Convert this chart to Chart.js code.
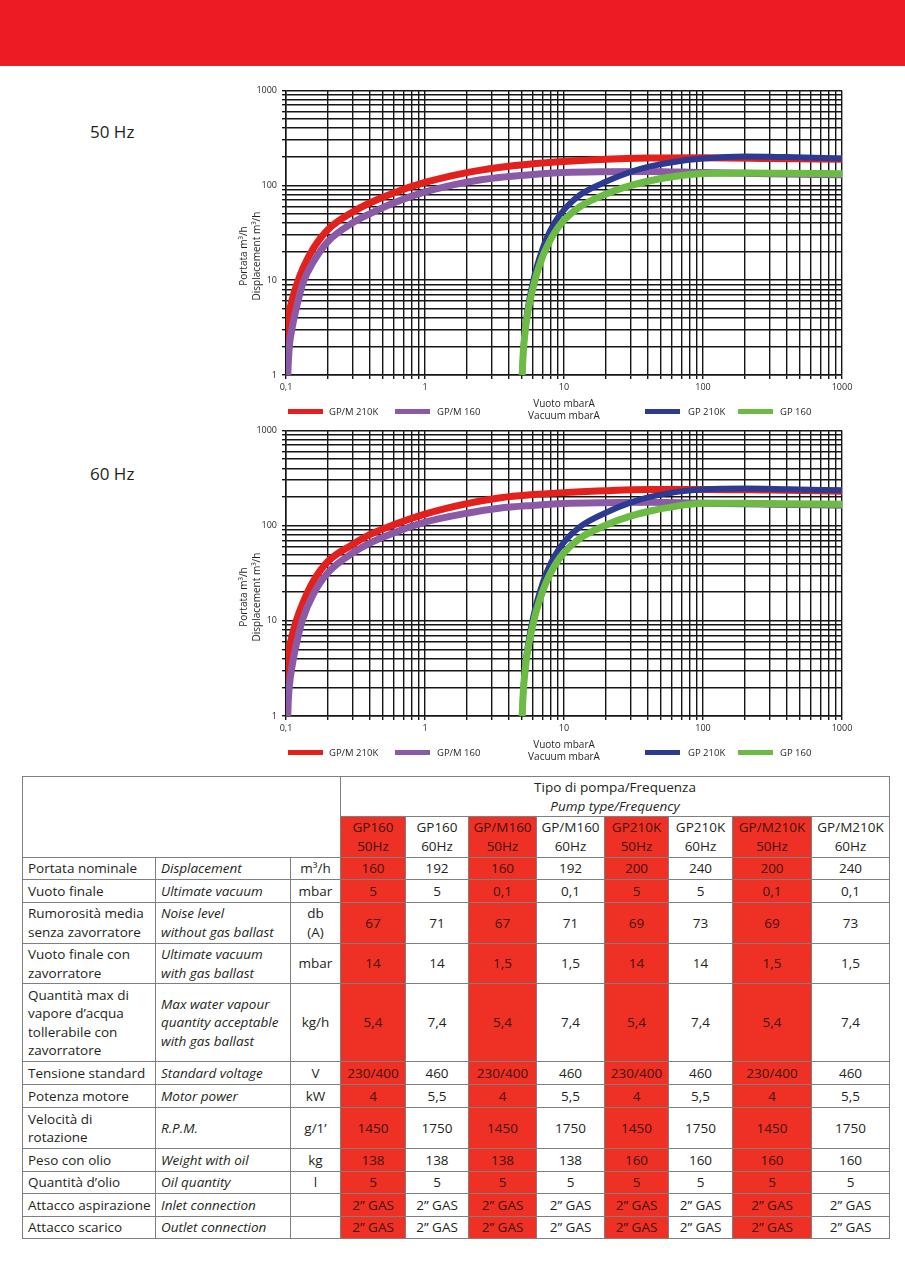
<!DOCTYPE html>
<html><head><meta charset="utf-8">
<script src="https://cdn.jsdelivr.net/npm/chart.js@4.4.1/dist/chart.umd.min.js"></script>
<style>
body{margin:0;width:905px;height:1280px;position:relative;background:#fff;font-family:"Open Sans",sans-serif;color:#231f20;overflow:hidden}
.band{position:absolute;left:0;top:0;width:905px;height:66px;background:#ed1c24}
.hz{position:absolute;left:90px;font-size:17px;line-height:20px;white-space:nowrap}
canvas{position:absolute}
.ytitle{position:absolute;width:130px;height:26px;font-size:10px;line-height:13px;text-align:center;transform:rotate(-90deg);white-space:nowrap}
.leg{position:absolute;font-size:9.5px;line-height:12px;white-space:nowrap}
.sw{position:absolute;height:5px}
.cell{position:absolute;box-sizing:border-box;border-right:1.5px solid #7f7f7f;border-bottom:1.5px solid #7f7f7f;display:flex;flex-direction:column;justify-content:center;font-size:13.5px;line-height:18.5px;white-space:nowrap}
.c{align-items:center;text-align:center}
.l{align-items:flex-start;padding-left:5px}
.red{background:#ee3124;color:#45120e}
.it{font-style:italic}
</style></head>
<body>
<div class="band"></div>
<div class="hz" style="top:122px">50 Hz</div>
<div class="hz" style="top:464px">60 Hz</div>
<canvas id="c50" width="700" height="342" style="left:180px;top:80px;width:700px;height:342px"></canvas>
<canvas id="c60" width="700" height="343" style="left:180px;top:420px;width:700px;height:343px"></canvas>
<div id="overlay"></div>
<div id="table"></div>
<script>
// ---------- axis ticks ----------
const xMajorValues = [0.1, 1, 10, 100, 1000];
const xMajorLabels = ['0,1', '1', '10', '100', '1000'];
const yMajorValues = [1, 10, 100, 1000];
const yMajorLabels = ['1', '10', '100', '1000'];
const xAxisTitle = ['Vuoto mbarA', 'Vacuum mbarA'];
const yAxisTitle = ['Portata m³/h', 'Displacement m³/h'];

// ---------- series names ----------
const seriesNames = ['GP/M 210K', 'GP/M 160', 'GP 210K', 'GP 160'];

// ---------- 50 Hz ----------
const gpm210k50X = [0.1, 0.101, 0.104, 0.11, 0.119, 0.133, 0.157, 0.2, 0.3, 0.4, 0.6, 1, 2, 3.4, 6, 10, 20, 40, 100, 300, 1000];
const gpm210k50Y = [1, 2.6, 4.1, 6.0, 8.8, 13.5, 21.5, 34, 52, 65, 83.5, 107, 136, 154, 169, 178.5, 188, 193.5, 195, 192, 188];
const gpm160_50X = [0.103, 0.104, 0.106, 0.11, 0.119, 0.133, 0.157, 0.2, 0.3, 0.4, 0.6, 1, 2, 3.4, 6, 10, 20, 40, 100, 300, 1000];
const gpm160_50Y = [1, 1.4, 2.1, 3.0, 5.2, 9.5, 15.5, 25.5, 40, 50, 65.4, 85, 108, 121, 130, 136, 139, 140, 136, 132, 129];
const gp210k50X = [5, 5.1, 5.3, 5.53, 6, 6.36, 7, 7.5, 8.5, 10, 13, 20.3, 30, 41.6, 60, 100, 200, 400, 1000];
const gp210k50Y = [1, 1.86, 3.5, 5.4, 9.8, 13.7, 21.3, 27.7, 39.8, 55, 79, 110, 138, 158, 175, 191, 201, 198, 192];
const gp160_50X = [5, 5.1, 5.3, 5.53, 6, 6.36, 7, 7.5, 8.5, 10, 13, 20.3, 30, 41.6, 60, 100, 200, 400, 1000];
const gp160_50Y = [1, 1.79, 3.2, 4.83, 8.44, 11.6, 17.5, 22.2, 31.2, 42.8, 59.4, 81.4, 98.9, 111.5, 122.8, 133, 135, 134, 132];

// ---------- 60 Hz ----------
const gpm210k60X = [0.1, 0.101, 0.104, 0.11, 0.119, 0.133, 0.157, 0.2, 0.3, 0.4, 0.6, 1, 2, 3.4, 6, 10, 20, 41.6, 100, 300, 1000];
const gpm210k60Y = [1, 2.9, 4.5, 6.8, 10.2, 15.7, 26, 42, 63, 80.3, 102.4, 132, 170, 195, 212, 222, 233, 240, 240, 236, 230];
const gpm160_60X = [0.103, 0.104, 0.106, 0.11, 0.119, 0.133, 0.157, 0.2, 0.3, 0.4, 0.6, 1, 2, 3.4, 6, 10, 20, 41.6, 100, 300, 1000];
const gpm160_60Y = [1, 1.5, 2.15, 3.2, 5.8, 10.8, 19, 32, 51.3, 65.4, 84.2, 108.6, 134.9, 152.3, 163, 170.2, 174, 176, 172, 168, 164];
const gp210k60X = [5, 5.1, 5.3, 5.53, 6, 6.36, 7, 7.5, 8.5, 10, 13, 20.3, 30, 41.6, 60, 100, 200, 400, 1000];
const gp210k60Y = [1, 1.91, 3.68, 5.85, 10.9, 15.5, 24.6, 32.3, 47.2, 67, 97, 138, 174, 200, 222, 239, 245, 241, 235];
const gp160_60X = [5, 5.1, 5.3, 5.53, 6, 6.36, 7, 7.5, 8.5, 10, 13, 20.3, 30, 41.6, 60, 100, 200, 400, 1000];
const gp160_60Y = [1, 1.84, 3.4, 5.25, 9.4, 13.1, 20.2, 26.1, 37.3, 52, 73.4, 102, 125.6, 142.3, 157.4, 171.4, 172, 170, 168];

// ---------- table ----------
const pumpModels = ['GP160', 'GP160', 'GP/M160', 'GP/M160', 'GP210K', 'GP210K', 'GP/M210K', 'GP/M210K'];
const pumpFreqs = ['50Hz', '60Hz', '50Hz', '60Hz', '50Hz', '60Hz', '50Hz', '60Hz'];
const headerIT = 'Tipo di pompa/Frequenza';
const headerEN = 'Pump type/Frequency';
const rowLabelsIT = ['Portata nominale', 'Vuoto finale', 'Rumorosità media|senza zavorratore', 'Vuoto finale con|zavorratore', 'Quantità max di|vapore d’acqua|tollerabile con|zavorratore', 'Tensione standard', 'Potenza motore', 'Velocità di|rotazione', 'Peso con olio', 'Quantità d’olio', 'Attacco aspirazione', 'Attacco scarico'];
const rowLabelsEN = ['Displacement', 'Ultimate vacuum', 'Noise level|without gas ballast', 'Ultimate vacuum|with gas ballast', 'Max water vapour|quantity acceptable|with gas ballast', 'Standard voltage', 'Motor power', 'R.P.M.', 'Weight with oil', 'Oil quantity', 'Inlet connection', 'Outlet connection'];
const rowUnits = ['m³/h', 'mbar', 'db|(A)', 'mbar', 'kg/h', 'V', 'kW', 'g/1’', 'kg', 'l', '', ''];
const rowValues = [
  ['160', '192', '160', '192', '200', '240', '200', '240'],
  ['5', '5', '0,1', '0,1', '5', '5', '0,1', '0,1'],
  ['67', '71', '67', '71', '69', '73', '69', '73'],
  ['14', '14', '1,5', '1,5', '14', '14', '1,5', '1,5'],
  ['5,4', '7,4', '5,4', '7,4', '5,4', '7,4', '5,4', '7,4'],
  ['230/400', '460', '230/400', '460', '230/400', '460', '230/400', '460'],
  ['4', '5,5', '4', '5,5', '4', '5,5', '4', '5,5'],
  ['1450', '1750', '1450', '1750', '1450', '1750', '1450', '1750'],
  ['138', '138', '138', '138', '160', '160', '160', '160'],
  ['5', '5', '5', '5', '5', '5', '5', '5'],
  ['2” GAS', '2” GAS', '2” GAS', '2” GAS', '2” GAS', '2” GAS', '2” GAS', '2” GAS'],
  ['2” GAS', '2” GAS', '2” GAS', '2” GAS', '2” GAS', '2” GAS', '2” GAS', '2” GAS']
];

const colors = ['#e3201b', '#8b5aa7', '#2c3a92', '#6cbb45'];
const widths = [7, 7, 6, 7];
const drawOrder = [4, 3, 2, 1];

Chart.defaults.font.family = '"Open Sans", sans-serif';
Chart.defaults.color = '#231f20';

function logTicks(majors) {
  const out = [];
  for (let i = 0; i < majors.length - 1; i++) {
    for (let m = 1; m <= 9; m++) out.push(majors[i] * m);
  }
  out.push(majors[majors.length - 1]);
  return out;
}
function labelFor(v, majors, labels) {
  for (let i = 0; i < majors.length; i++) {
    if (Math.abs(v - majors[i]) < majors[i] * 1e-6) return labels[i];
  }
  return '';
}

function makeChart(id, seriesX, seriesY) {
  const datasets = seriesX.map((xs, i) => ({
    label: seriesNames[i],
    data: xs.map((x, j) => ({x: x, y: seriesY[i][j]})),
    borderColor: colors[i],
    backgroundColor: colors[i],
    borderWidth: widths[i],
    pointRadius: 0,
    fill: false,
    cubicInterpolationMode: 'monotone',
    borderCapStyle: 'butt',
    order: drawOrder[i]
  }));
  const gridOpts = {color: '#151515', lineWidth: 1.4, tickLength: 4, drawTicks: true};
  new Chart(document.getElementById(id), {
    type: 'line',
    data: {datasets},
    options: {
      responsive: false,
      animation: false,
      devicePixelRatio: 1,
      layout: {padding: {top: 10, right: 38, left: 0, bottom: 0}},
      plugins: {legend: {display: false}, tooltip: {enabled: false}},
      scales: {
        x: {
          type: 'logarithmic', min: 0.1, max: 1000,
          afterBuildTicks: s => { s.ticks = logTicks(xMajorValues).map(v => ({value: v})); },
          afterFit: s => { s.height = 47; },
          ticks: {autoSkip: false, maxRotation: 0, padding: 3, font: {size: 9},
            callback: v => labelFor(v, xMajorValues, xMajorLabels)},
          grid: gridOpts,
          border: {display: true, color: '#151515', width: 1.5},
          title: {display: true, text: xAxisTitle, font: {size: 10}, padding: {top: 0, bottom: 0}}
        },
        y: {
          type: 'logarithmic', min: 1, max: 1000,
          afterBuildTicks: s => { s.ticks = logTicks(yMajorValues).map(v => ({value: v})); },
          afterFit: s => { s.width = 106; },
          ticks: {autoSkip: false, padding: 5, font: {size: 9},
            callback: v => labelFor(v, yMajorValues, yMajorLabels)},
          grid: gridOpts,
          border: {display: true, color: '#151515', width: 1.5}
        }
      }
    }
  });
}

makeChart('c50', [gpm210k50X, gpm160_50X, gp210k50X, gp160_50X], [gpm210k50Y, gpm160_50Y, gp210k50Y, gp160_50Y]);
makeChart('c60', [gpm210k60X, gpm160_60X, gp210k60X, gp160_60X], [gpm210k60Y, gpm160_60Y, gp210k60Y, gp160_60Y]);

// ---------- overlay: y titles and legends ----------
const ov = document.getElementById('overlay');
function addYTitle(cy) {
  const d = document.createElement('div');
  d.className = 'ytitle';
  d.style.left = (249.5 - 65) + 'px';
  d.style.top = (cy - 13) + 'px';
  d.innerHTML = yAxisTitle.join('<br>');
  ov.appendChild(d);
}
const legSwX = [288, 395, 645, 738];
const legTxtX = [329, 437, 688, 780];
function addLegend(cy) {
  seriesNames.forEach((n, i) => {
    const s = document.createElement('div');
    s.className = 'sw';
    s.style.left = legSwX[i] + 'px';
    s.style.width = '35px';
    s.style.top = (cy - 2.5) + 'px';
    s.style.background = colors[i];
    ov.appendChild(s);
    const t = document.createElement('div');
    t.className = 'leg';
    t.style.left = legTxtX[i] + 'px';
    t.style.top = (cy - 6) + 'px';
    t.textContent = n;
    ov.appendChild(t);
  });
}
addYTitle(256); addYTitle(597);
addLegend(411.5); addLegend(752.5);

// ---------- table ----------
const colX = [22, 156, 291, 341, 406, 469, 537, 605, 669, 733, 812, 890];
const rowY = [776, 817, 857.5, 880, 902.5, 944, 984, 1062, 1085, 1108, 1149, 1172, 1194, 1217, 1239];
const tb = document.getElementById('table');
function cell(c1, c2, r1, r2, html, cls) {
  const d = document.createElement('div');
  d.className = 'cell ' + cls;
  d.style.left = colX[c1] + 'px';
  d.style.top = rowY[r1] + 'px';
  d.style.width = (colX[c2] - colX[c1]) + 'px';
  d.style.height = (rowY[r2] - rowY[r1]) + 'px';
  if (c1 === 0) d.style.borderLeft = '1.5px solid #7f7f7f';
  if (r1 === 0) d.style.borderTop = '1.5px solid #7f7f7f';
  d.innerHTML = html;
  tb.appendChild(d);
}
const br = s => s.split('|').join('<br>');
cell(0, 3, 0, 2, '', 'c');
cell(3, 11, 0, 1, headerIT + '<br><span class="it">' + headerEN + '</span>', 'c');
pumpModels.forEach((m, i) => {
  cell(3 + i, 4 + i, 1, 2, m + '<br>' + pumpFreqs[i], 'c' + (i % 2 === 0 ? ' red' : ''));
});
rowLabelsIT.forEach((lab, r) => {
  cell(0, 1, 2 + r, 3 + r, br(lab), 'l');
  cell(1, 2, 2 + r, 3 + r, br(rowLabelsEN[r]), 'l it');
  cell(2, 3, 2 + r, 3 + r, br(rowUnits[r]), 'c');
  rowValues[r].forEach((v, i) => {
    cell(3 + i, 4 + i, 2 + r, 3 + r, v, 'c' + (i % 2 === 0 ? ' red' : ''));
  });
});
</script>
</body></html>
